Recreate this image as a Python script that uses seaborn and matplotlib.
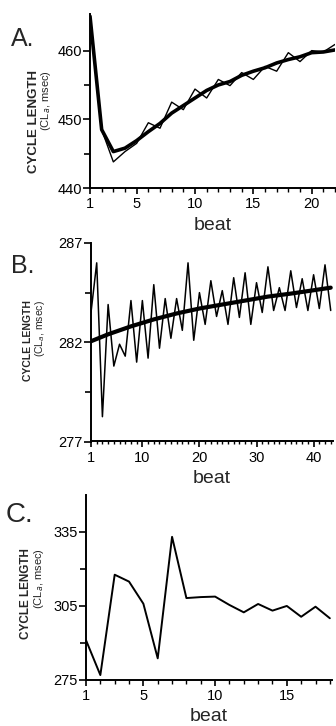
import numpy as np
import pandas as pd
import matplotlib
matplotlib.use("Agg")
import matplotlib.pyplot as plt
import seaborn as sns

# ---------------- data ----------------
a_beats = list(range(1, 23))
a_cl = [465.0, 448.5, 443.8, 445.3, 446.5, 449.5, 448.7, 452.5, 451.4, 454.4, 453.1,
        455.8, 454.9, 456.8, 455.8, 457.7, 457.0, 459.7, 458.4, 460.0, 459.8, 460.9]
a_fit = [465.0, 448.5, 445.3, 445.8, 446.9, 448.2, 449.4, 450.9, 452.0, 453.1, 454.2,
         455.0, 455.5, 456.4, 457.0, 457.5, 458.2, 458.7, 459.1, 459.7, 459.8, 460.1]

b_beats = list(range(1, 44))
b_cl = [283.5, 286.0, 278.25, 283.9, 280.8, 281.9, 281.3, 284.1, 281.0, 284.1, 281.2,
        284.9, 281.7, 284.2, 282.2, 284.2, 282.6, 286.0, 282.1, 284.5, 282.9, 285.1,
        283.3, 284.6, 282.9, 285.25, 283.25, 285.5, 282.9, 285.0, 283.5, 285.8, 283.6,
        284.75, 283.6, 285.6, 283.75, 285.2, 283.6, 285.4, 283.7, 285.9, 283.6]
b_fit_beats = [1, 4, 8, 12, 16, 20, 24, 28, 32, 36, 40, 43]
b_fit = [282.05, 282.4, 282.8, 283.15, 283.45, 283.7, 283.9, 284.1, 284.3, 284.45, 284.62, 284.75]

c_beats = list(range(1, 19))
c_cl = [291.0, 276.8, 317.6, 314.8, 305.8, 283.6, 333.0, 308.1, 308.5, 308.7, 305.3,
        302.3, 305.7, 303.0, 304.9, 300.5, 304.6, 299.9]

a_yticks = [440, 450, 460]
b_yticks = [277, 282, 287]
c_yticks = [275, 305, 335]
a_xticks = [1, 5, 10, 15, 20]
b_xticks = [1, 10, 20, 30, 40]
c_xticks = [1, 5, 10, 15]

# ---------------- style ----------------
sns.set_style("ticks")
plt.rcParams['font.family'] = ['Liberation Sans', 'DejaVu Sans']
plt.rcParams['axes.linewidth'] = 1.4

W, H = 336, 726
fig = plt.figure(figsize=(W / 100, H / 100), dpi=100)


def add_ax(left, top, right, bottom):
    return fig.add_axes([left / W, 1 - bottom / H, (right - left) / W, (bottom - top) / H])


def style(ax, xlim, ylim, xt, yt, yminor):
    ax.set_xlim(*xlim)
    ax.set_ylim(*ylim)
    ax.set_xticks(xt)
    ax.set_xticks(np.arange(1, int(xlim[1]) + 1), minor=True)
    ax.set_yticks(yt)
    ax.set_yticks(yminor, minor=True)
    for s in ['top', 'right']:
        ax.spines[s].set_visible(False)
    for s in ['left', 'bottom']:
        ax.spines[s].set_color('black')
        ax.spines[s].set_linewidth(1.4)
    ax.tick_params(axis='both', which='both', direction='out', length=4, width=1.2,
                   colors='black', labelsize=10.5, pad=2.5)
    ax.tick_params(axis='x', which='minor', length=3, width=1.0)
    ax.tick_params(axis='y', which='major', length=5, pad=1)
    ax.tick_params(axis='y', which='minor', length=4)
    ax.set_xlabel('beat', fontsize=14, labelpad=4)
    ax.set_ylabel('')
    if ax.get_legend():
        ax.get_legend().remove()


# ---------------- Panel A ----------------
axA = add_ax(90, 13.5, 335, 188)
dfA = pd.DataFrame({'beat': a_beats, 'cl': a_cl, 'fit': a_fit})
sns.lineplot(data=dfA, x='beat', y='cl', ax=axA, color='black', linewidth=1.0)
sns.lineplot(data=dfA, x='beat', y='fit', ax=axA, color='black', linewidth=2.6)
style(axA, (1, 22), (440, 465.4), a_xticks, a_yticks, [445, 455])

# ---------------- Panel B ----------------
axB = add_ax(91, 243, 333, 441.5)
dfB = pd.DataFrame({'beat': b_beats, 'cl': b_cl})
dfBf = pd.DataFrame({'beat': b_fit_beats, 'fit': b_fit})
sns.lineplot(data=dfB, x='beat', y='cl', ax=axB, color='black', linewidth=1.1)
sns.lineplot(data=dfBf, x='beat', y='fit', ax=axB, color='black', linewidth=3.0)
style(axB, (1, 43.4), (277, 287), b_xticks, b_yticks, [279.5, 284.5])
axB.tick_params(axis='x', which='minor', length=2.5)

# ---------------- Panel C ----------------
axC = add_ax(86, 495, 332, 679.5)
dfC = pd.DataFrame({'beat': c_beats, 'cl': c_cl})
sns.lineplot(data=dfC, x='beat', y='cl', ax=axC, color='black', linewidth=1.4)
style(axC, (1, 18.15), (275, 350), c_xticks, c_yticks, [290, 320])

# ---------------- panel letters & y labels ----------------
fig.text(11 / W, 1 - 46 / H, 'A.', fontsize=18, ha='left', va='baseline')
fig.text(11 / W, 1 - 273 / H, 'B.', fontsize=18, ha='left', va='baseline')
fig.text(6 / W, 1 - 522 / H, 'C.', fontsize=20, ha='left', va='baseline')

for (xc1, xc2, ytop, fs1, fs2) in [(34, 46, 70, 9.5, 8), (28, 40, 300, 7.5, 7.5), (26, 39, 548, 8.5, 8)]:
    fig.text(xc1 / W, 1 - ytop / H, 'CYCLE LENGTH', rotation=90, fontsize=fs1,
             fontweight='bold', ha='center', va='top')
    fig.text(xc2 / W, 1 - ytop / H, '(CL$_a$, msec)', rotation=90, fontsize=fs2,
             ha='center', va='top')

fig.savefig('out.png', dpi=100)
